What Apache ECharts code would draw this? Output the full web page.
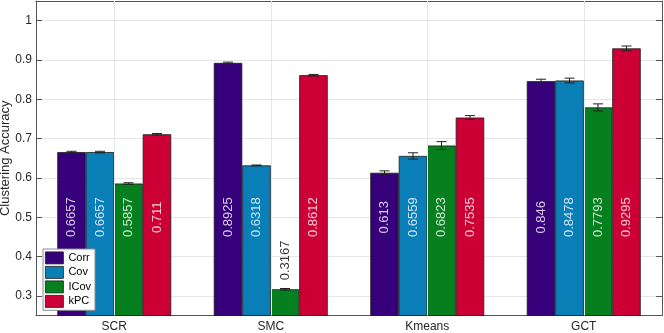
<!DOCTYPE html>
<html>
<head>
<meta charset="utf-8">
<script src="https://cdn.jsdelivr.net/npm/echarts@6/dist/echarts.min.js"></script>
<style>
  html, body { margin: 0; padding: 0; background: #fff; }
  #chart { width: 664px; height: 333px; }
</style>
</head>
<body>
<div id="chart"></div>
<script>
// data
var categories = ['SCR', 'SMC', 'Kmeans', 'GCT'];
var seriesNames = ['Corr', 'Cov', 'ICov', 'kPC'];
var corr = [0.6657, 0.8925, 0.613, 0.846];
var cov = [0.6657, 0.6318, 0.6559, 0.8478];
var icov = [0.5857, 0.3167, 0.6823, 0.7793];
var kpc = [0.711, 0.8612, 0.7535, 0.9295];
// error bar half lengths
var corrErr = [0.002, 0.002, 0.005, 0.005];
var covErr = [0.002, 0.001, 0.008, 0.006];
var icovErr = [0.002, 0.002, 0.010, 0.009];
var kpcErr = [0.002, 0.002, 0.005, 0.006];
var yTicks = [0.3, 0.4, 0.5, 0.6, 0.7, 0.8, 0.9, 1];

var colors = ['#36007a', '#0a7fb7', '#06801f', '#cd0036'];
var values = [corr, cov, icov, kpc];
var errors = [corrErr, covErr, icovErr, kpcErr];

var groupFrac = 0.728;          // part of a category taken by the 4 bars
var barFrac = groupFrac / 4;
var labelLevel = 0.5;           // labels inside bars are centred at this value
var axisColor = '#555';
var font = 'Liberation Sans, Arial, sans-serif';

function barX(i, j) { return i + 0.5 + (j - 1.5) * barFrac; }

var chart = echarts.init(document.getElementById('chart'));

var series = [];
seriesNames.forEach(function (name, j) {
  series.push({
    name: name,
    type: 'bar',
    xAxisIndex: 0,
    yAxisIndex: 0,
    data: values[j],
    barGap: '0%',
    barCategoryGap: ((1 - groupFrac) * 100) + '%',
    itemStyle: { color: colors[j], borderColor: '#1a1a1a', borderWidth: 0.8 },
    emphasis: { disabled: true }
  });
});

// vertical grid lines at category centres
series.push({
  type: 'line',
  xAxisIndex: 0,
  yAxisIndex: 0,
  data: [],
  z: 0,
  markLine: {
    silent: true,
    symbol: 'none',
    label: { show: false },
    lineStyle: { color: '#e6e6e6', width: 1, type: 'solid' },
    data: categories.map(function (c) { return { xAxis: c }; })
  }
});

// error bars + value labels
var errData = [];
var labelData = [];
values.forEach(function (arr, j) {
  arr.forEach(function (v, i) {
    errData.push([barX(i, j), v, errors[j][i]]);
    var inside = v > labelLevel + 0.05;
    labelData.push({
      value: [barX(i, j), inside ? labelLevel : v, v],
      label: inside ? {
        position: 'inside', align: 'center', verticalAlign: 'middle', color: '#fff'
      } : {
        position: 'top', distance: 9, align: 'left', verticalAlign: 'middle', color: '#000'
      }
    });
  });
});

series.push({
  type: 'custom',
  xAxisIndex: 2,
  yAxisIndex: 0,
  z: 5,
  silent: true,
  data: errData,
  renderItem: function (params, api) {
    var x = api.value(0), v = api.value(1), e = api.value(2);
    var top = api.coord([x, v + e]);
    var bot = api.coord([x, v - e]);
    var hw = 5;
    var st = { stroke: '#222', lineWidth: 1 };
    return {
      type: 'group',
      children: [
        { type: 'line', shape: { x1: top[0], y1: top[1], x2: bot[0], y2: bot[1] }, style: st },
        { type: 'line', shape: { x1: top[0] - hw, y1: top[1], x2: top[0] + hw, y2: top[1] }, style: st },
        { type: 'line', shape: { x1: bot[0] - hw, y1: bot[1], x2: bot[0] + hw, y2: bot[1] }, style: st }
      ]
    };
  }
});

series.push({
  type: 'scatter',
  xAxisIndex: 2,
  yAxisIndex: 0,
  z: 6,
  silent: true,
  symbolSize: 0,
  data: labelData,
  label: {
    show: true,
    rotate: 90,
    fontSize: 13,
    fontFamily: font,
    formatter: function (p) { return String(p.value[2]); }
  }
});

chart.setOption({
  animation: false,
  textStyle: { fontFamily: font },
  grid: { left: 36, right: 2, top: 1, bottom: 17.5, outerBoundsMode: 'none' },
  legend: {
    orient: 'vertical',
    left: 43,
    top: 249,
    data: seriesNames,
    icon: 'rect',
    itemWidth: 18,
    itemHeight: 12,
    itemGap: 1.7,
    padding: [2.5, 4, 2.5, 2],
    backgroundColor: '#fff',
    borderColor: '#8c8c8c',
    borderWidth: 1,
    borderRadius: 0,
    selectedMode: false,
    itemStyle: { borderColor: '#1a1a1a', borderWidth: 0.8 },
    textStyle: { fontSize: 11, color: '#000', fontFamily: font, lineHeight: 12 }
  },
  xAxis: [
    {
      type: 'category',
      data: categories,
      axisLine: { lineStyle: { color: axisColor, width: 1 } },
      axisTick: { inside: true, alignWithLabel: true, length: 5, lineStyle: { color: axisColor } },
      axisLabel: { fontSize: 12, color: '#262626', margin: 5 },
      splitLine: { show: false }
    },
    {
      type: 'category',
      position: 'top',
      data: categories,
      axisLine: { lineStyle: { color: axisColor, width: 1 } },
      axisTick: { inside: true, alignWithLabel: true, length: 5, lineStyle: { color: axisColor } },
      axisLabel: { show: false },
      splitLine: { show: false }
    },
    {
      type: 'value',
      min: 0,
      max: categories.length,
      show: false,
      splitLine: { show: false }
    }
  ],
  yAxis: [
    {
      type: 'value',
      min: 0.25,
      max: 1.05,
      splitNumber: 8,
      name: 'Clustering Accuracy',
      nameLocation: 'middle',
      nameGap: 24,
      nameMoveOverlap: false,
      nameTextStyle: { fontSize: 13, color: '#262626', fontFamily: font },
      axisLine: { show: true, lineStyle: { color: axisColor, width: 1 } },
      axisTick: { show: true, inside: true, length: 6, lineStyle: { color: axisColor } },
      axisLabel: {
        fontSize: 12,
        color: '#262626',
        margin: 4,
        showMinLabel: false,
        showMaxLabel: false,
        formatter: function (v) {
          var r = Math.round(v * 100) / 100;
          return yTicks.indexOf(r) >= 0 ? String(r) : '';
        }
      },
      splitLine: { show: true, lineStyle: { color: '#e6e6e6', width: 1 } }
    },
    {
      type: 'value',
      position: 'right',
      min: 0.25,
      max: 1.05,
      splitNumber: 8,
      axisLine: { show: true, lineStyle: { color: axisColor, width: 1 } },
      axisTick: { show: true, inside: true, length: 6, lineStyle: { color: axisColor } },
      axisLabel: { show: false },
      splitLine: { show: false }
    }
  ],
  series: series
});

window.onresize = function () {
  chart.resize();
};
</script>
</body>
</html>
